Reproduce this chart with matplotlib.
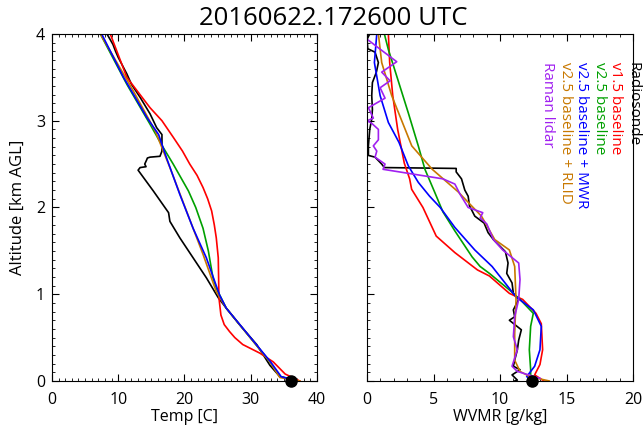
import matplotlib
matplotlib.use("Agg")
from matplotlib import pyplot as plt
from matplotlib.ticker import MultipleLocator

plt.rcParams['font.family'] = ['Open Sans', 'DejaVu Sans']

# --- temperature profiles [C] vs altitude [km AGL] ---
sonde_t_z = [0.0, 0.02, 0.05, 0.18, 0.42, 0.65, 0.84, 0.96, 1.19, 1.42, 1.65, 1.84, 1.94,
             2.19, 2.43, 2.46, 2.47, 2.50, 2.55, 2.57, 2.58, 2.59, 2.65, 2.69, 2.84, 2.92,
             3.08, 3.27, 3.42, 3.54, 3.73, 3.80, 3.88, 4.0]
sonde_t = [36.9, 36.4, 34.4, 32.9, 30.9, 28.3, 26.3, 25.1, 23.3, 21.3, 19.3, 17.8, 17.6,
           15.3, 13.0, 13.3, 14.2, 14.0, 14.3, 14.4, 14.8, 16.3, 16.6, 16.6, 16.6, 15.8,
           14.8, 13.3, 12.0, 11.3, 10.0, 9.6, 9.2, 8.3]

v15_t_z = [0.0, 0.08, 0.22, 0.32, 0.42, 0.50, 0.57, 0.65, 0.76, 0.96, 1.2, 1.42, 1.65,
           1.80, 1.96, 2.10, 2.23, 2.37, 2.50, 2.65, 2.81, 3.0, 3.15, 3.33, 3.50, 4.0]
v15_t = [37.4, 35.2, 33.4, 31.4, 28.8, 27.6, 26.8, 26.0, 25.5, 25.2, 25.15, 25.1, 24.8,
         24.5, 24.1, 23.5, 22.8, 21.9, 20.8, 19.7, 18.3, 16.6, 14.8, 13.0, 11.3, 8.8]

v25_t_z = [0.0, 0.05, 0.22, 0.84, 1.07, 1.19, 1.50, 1.76, 2.0, 2.19, 2.50, 2.69, 2.96,
           3.42, 4.0]
v25_t = [36.9, 34.4, 32.9, 26.3, 24.8, 24.3, 23.6, 22.8, 21.7, 20.6, 18.3, 16.8, 14.8,
         11.3, 7.3]

mwr_t_z = [0.0, 0.05, 0.22, 0.84, 0.99, 1.42, 1.76, 2.15, 2.57, 2.84, 3.04, 3.50, 4.0]
mwr_t = [36.9, 34.6, 33.0, 26.3, 25.3, 23.3, 21.3, 19.3, 17.3, 16.1, 14.3, 10.8, 7.5]

rlid_t_z = [0.0, 0.04, 0.22, 0.84, 1.03, 1.46, 1.96, 2.46, 2.88, 3.34, 4.0]
rlid_t = [37.4, 34.4, 32.9, 26.3, 24.8, 22.8, 20.3, 17.8, 15.6, 12.3, 7.3]

sfc_t = 36.1

# --- water vapour mixing ratio [g/kg] vs altitude [km AGL] ---
sonde_w_z = [0.0, 0.01, 0.07, 0.13, 0.17, 0.24, 0.36, 0.47, 0.59, 0.70, 0.74, 0.82, 0.94,
             1.01, 1.13, 1.24, 1.36, 1.49, 1.63, 1.71, 1.82, 1.90, 2.02, 2.13, 2.20, 2.33,
             2.41, 2.45, 2.46, 2.50, 2.58, 2.60, 2.71, 2.90, 3.02, 3.13, 3.29, 3.44, 3.56,
             3.67, 3.79, 3.83, 3.94, 4.0]
sonde_w = [11.1, 11.3, 10.9, 11.5, 11.0, 11.1, 11.3, 11.4, 11.6, 10.7, 11.1, 11.0, 11.4,
           11.0, 10.9, 10.5, 10.6, 10.4, 9.5, 9.1, 8.8, 8.1, 7.7, 7.6, 7.35, 7.1,
           6.7, 6.7, 1.3, 1.1, 0.6, 0.1, 0.1, 0.2, 0.35, 0.4, 0.35, 0.4, 0.7,
           0.85, 0.6, 0.05, 0.0, 0.2]

v15_w_z = [0.0, 0.07, 0.19, 0.36, 0.66, 0.78, 0.94, 1.01, 1.21, 1.28, 1.48, 1.67, 2.0, 2.21,
           2.33, 2.51, 2.9, 3.29, 3.67, 4.0]
v15_w = [13.3, 12.6, 13.0, 13.2, 13.1, 12.7, 11.7, 10.7, 9.2, 8.3, 6.6, 5.2, 4.2, 3.35,
         3.2, 2.8, 2.3, 1.93, 1.7, 1.6]

v25_w_z = [0.0, 0.13, 0.36, 0.63, 0.78, 0.94, 1.05, 1.24, 1.32, 1.43, 1.73, 1.95, 2.17, 2.44,
           2.71, 3.09, 3.48, 3.82, 4.0]
v25_w = [12.3, 12.3, 12.2, 12.3, 12.5, 11.5, 10.7, 9.2, 8.5, 7.9, 6.6, 5.7, 5.1, 4.35,
         3.85, 3.1, 2.3, 1.6, 1.3]

mwr_w_z = [0.0, 0.05, 0.17, 0.36, 0.63, 0.82, 0.97, 1.32, 1.51, 1.77, 2.0, 2.13, 2.29, 2.48,
           2.75, 2.98, 3.29, 3.67, 4.0]
mwr_w = [12.6, 12.0, 12.6, 13.0, 13.1, 12.5, 11.2, 9.4, 8.1, 6.6, 5.5, 4.7, 3.85, 3.1,
         2.4, 1.6, 0.98, 0.55, 0.73]

rlid_w_z = [0.0, 0.05, 0.11, 0.24, 0.55, 0.94, 1.32, 1.51, 1.63, 1.9, 2.18, 2.44, 2.71,
            3.29, 3.67, 4.0]
rlid_w = [13.7, 12.25, 11.5, 11.1, 11.1, 11.2, 11.1, 10.7, 9.6, 8.6, 6.85, 4.9, 3.36,
          1.85, 1.1, 0.85]

raman_w_z = [0.03, 0.11, 0.17, 0.36, 0.51, 0.74, 0.94, 1.17, 1.36, 1.51, 1.63, 1.81, 1.88,
             1.94, 2.0, 2.15, 2.27, 2.33, 2.44, 2.50, 2.58, 2.65, 2.71, 2.78, 2.90, 2.97,
             3.0, 3.03, 3.15, 3.26, 3.38, 3.46, 3.56, 3.68, 3.84, 3.94]
raman_w = [13.0, 11.3, 10.9, 11.3, 11.0, 11.1, 11.4, 11.5, 11.4, 10.2, 9.5, 9.0, 8.5,
           8.7, 7.6, 7.0, 6.6, 5.7, 1.2, 1.35, 0.6, 0.73, 0.47, 0.85, 0.85, 0.35,
           0.0, 0.47, 0.1, 1.35, 0.98, 1.73, 1.1, 2.23, 0.85, 0.0]

sfc_w = 12.4

labels = ['Radiosonde', 'v1.5 baseline', 'v2.5 baseline', 'v2.5 baseline + MWR',
          'v2.5 baseline + RLID', 'Raman lidar']
colors = ['black', '#ff0000', '#00a000', '#0000ff', '#c87800', '#a020f0']

fig = plt.figure(figsize=(6.44, 4.30), dpi=100)
ax1 = fig.add_axes([0.0807, 0.114, 0.4115, 0.807])
ax2 = fig.add_axes([0.570, 0.114, 0.413, 0.807])

lw = 1.2
ax1.plot(sonde_t, sonde_t_z, color=colors[0], lw=lw)
ax1.plot(v15_t, v15_t_z, color=colors[1], lw=lw)
ax1.plot(v25_t, v25_t_z, color=colors[2], lw=lw)
ax1.plot(rlid_t, rlid_t_z, color=colors[4], lw=lw)
ax1.plot(mwr_t, mwr_t_z, color=colors[3], lw=lw)
ax1.plot([sfc_t], [0], 'o', color='black', ms=8, clip_on=False, zorder=5)

ax2.plot(sonde_w, sonde_w_z, color=colors[0], lw=lw)
ax2.plot(v15_w, v15_w_z, color=colors[1], lw=lw)
ax2.plot(v25_w, v25_w_z, color=colors[2], lw=lw)
ax2.plot(mwr_w, mwr_w_z, color=colors[3], lw=lw)
ax2.plot(rlid_w, rlid_w_z, color=colors[4], lw=lw)
ax2.plot(raman_w, raman_w_z, color=colors[5], lw=lw)
ax2.plot([sfc_w], [0], 'o', color='black', ms=8, clip_on=False, zorder=5)

ax1.set_xlim(0, 40)
ax1.set_ylim(0, 4)
ax1.xaxis.set_major_locator(MultipleLocator(10))
ax1.xaxis.set_minor_locator(MultipleLocator(1))
ax1.set_xlabel('Temp [C]', fontsize=11.5, labelpad=1)
ax1.set_ylabel('Altitude [km AGL]', fontsize=12, labelpad=7)

ax2.set_xlim(0, 20)
ax2.set_ylim(0, 4)
ax2.xaxis.set_major_locator(MultipleLocator(5))
ax2.xaxis.set_minor_locator(MultipleLocator(1))
ax2.set_xlabel('WVMR [g/kg]', fontsize=11.5, labelpad=1)
ax2.set_yticklabels([])

for ax in (ax1, ax2):
    ax.yaxis.set_major_locator(MultipleLocator(1))
    ax.yaxis.set_minor_locator(MultipleLocator(0.1))
    ax.tick_params(which='both', direction='in', top=True, labelsize=11.5)
    ax.tick_params(which='major', length=5)
    ax.tick_params(which='minor', length=2.5)
    ax.tick_params(axis='x', pad=8)
    ax.tick_params(axis='y', pad=5)
ax1.tick_params(which='both', right=True)

# vertical legend text on the right panel
xs = [633, 616, 599, 582, 565, 547]
for lab, c, xp in zip(labels, colors, xs):
    fig.text(xp / 644, 1 - 62 / 430, lab, color=c, rotation=-90, fontsize=11,
             ha='center', va='top')

fig.text(0.518, 0.958, '20160622.172600 UTC', ha='center', va='center', fontsize=18.5)

fig.savefig('out.png', dpi=100)
